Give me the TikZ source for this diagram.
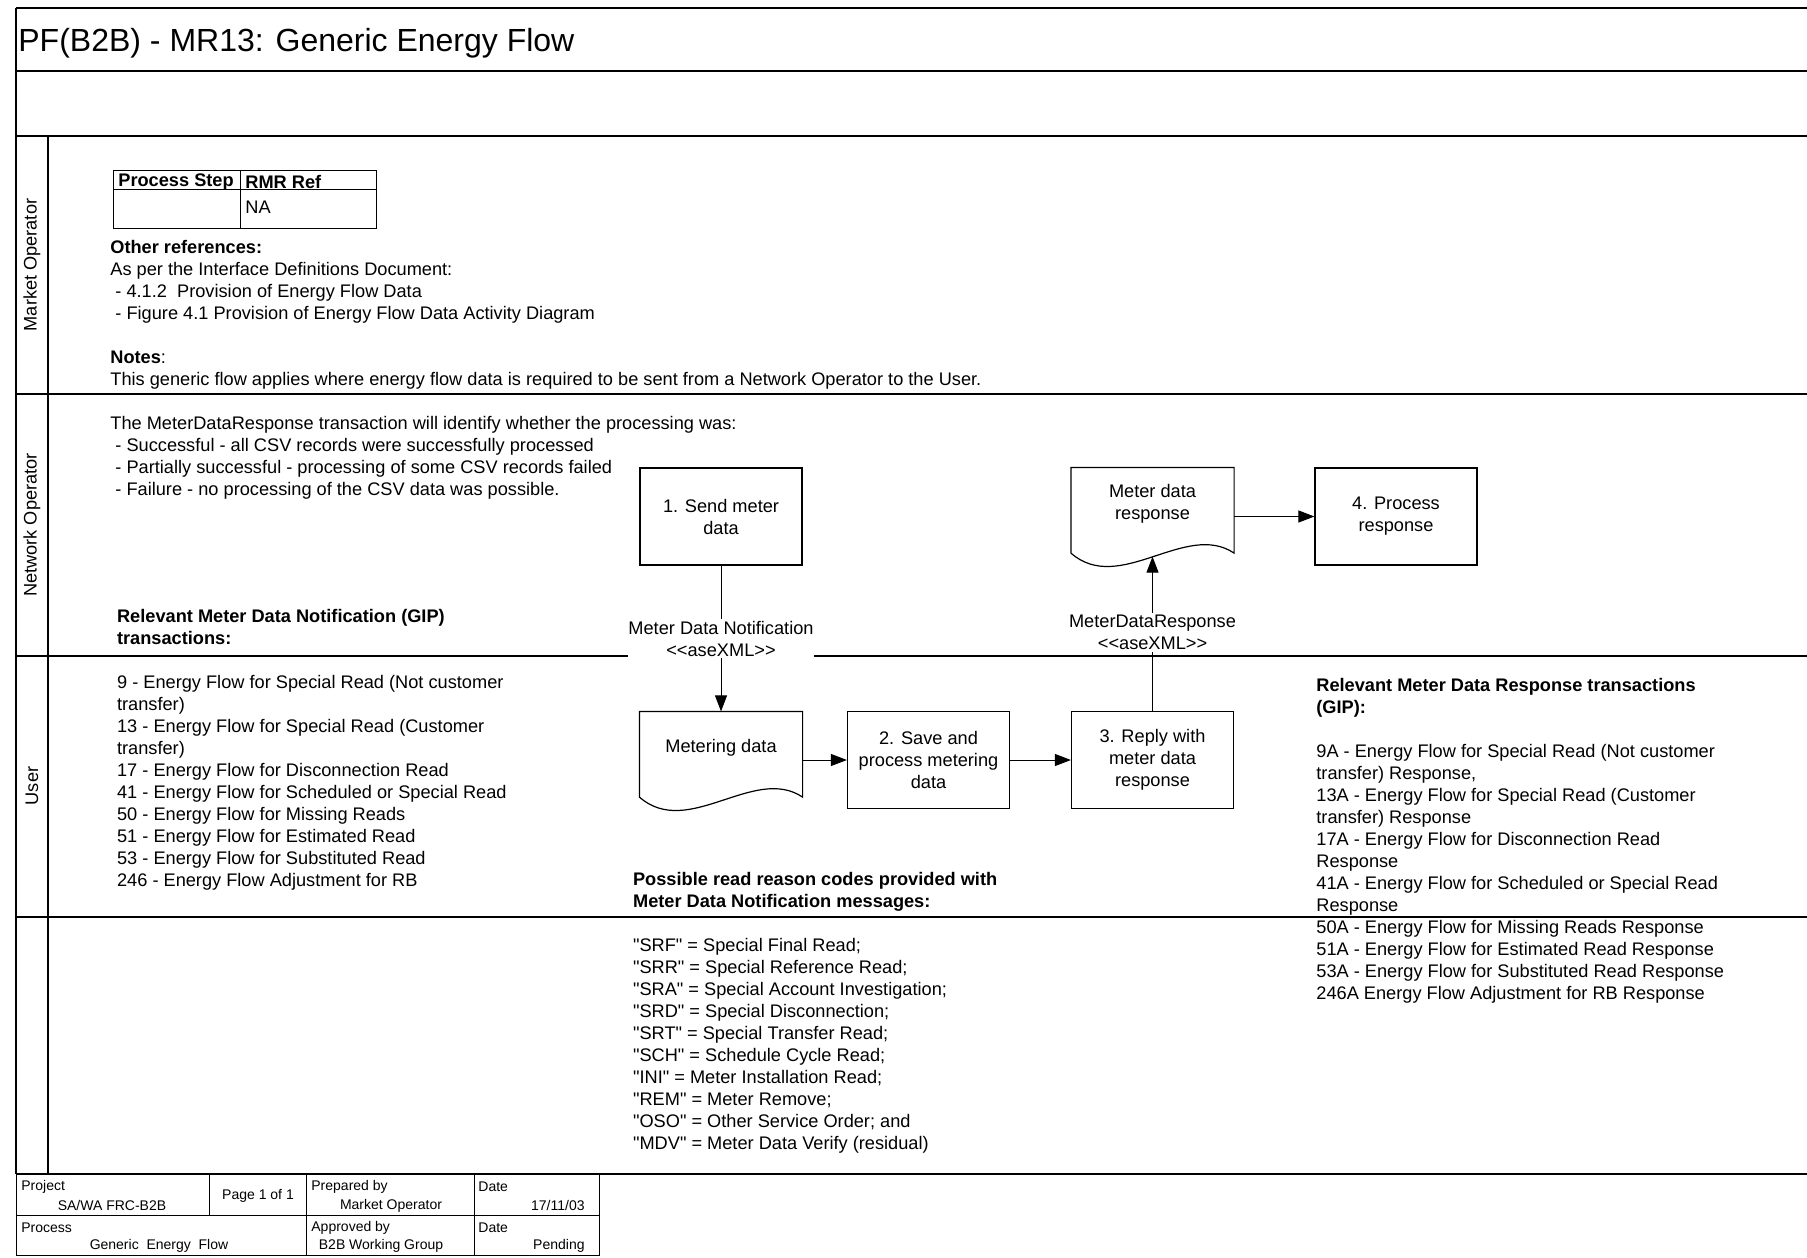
\documentclass[tikz,border=0pt]{standalone}
\usepackage{fontspec}
\setmainfont{Liberation Sans}[Ligatures=TeXOff]
\usetikzlibrary{arrows.meta}

\newcommand{\docoutline}[1]{%
  \draw[boxline] (#1.north west) -- (#1.north east)
    -- ([shift={(0,12.5)}]#1.south east)
    .. controls ([shift={(-48.6,-20)}]#1.south east) and ([shift={(48.6,55)}]#1.south west) ..
    ([shift={(0,12.5)}]#1.south west) -- cycle;}

\tikzset{
  border/.style={line width=0.75pt},
  boxline/.style={line width=0.6pt},
  txt/.style={anchor=north west, align=left, inner sep=0pt,
    font=\fontsize{9.1}{11}\selectfont, execute at begin node=\strut},
  cell/.style={anchor=west, inner sep=0pt, font=\fontsize{9.1}{11}\selectfont},
  box/.style={draw, boxline, minimum width=81pt, minimum height=48.5pt,
    align=center, inner sep=0pt, font=\fontsize{9.1}{11}\selectfont},
  doc/.style={box, draw=none, minimum height=36pt},
  flow/.style={line width=0.5pt, -{Triangle[length=8pt,width=6pt]}},
  msg/.style={fill=white, inner xsep=0pt, inner ysep=1pt, align=center,
    font=\fontsize{9.1}{11}\selectfont},
  lane/.style={rotate=90, inner sep=0pt, font=\fontsize{9.1}{11}\selectfont},
  foot/.style={inner sep=0pt, font=\fontsize{7}{8.4}\selectfont}
}

\begin{document}
\begin{tikzpicture}[x=0.5pt, y=-0.5pt]
  \fill[white] (0,0) rectangle (1807,1257);
  \useasboundingbox (0,0) rectangle (1807,1257);

  % frame and swimlanes
  \draw[border] (16,8) -- (1807,8);
  \draw[border] (16,71) -- (1807,71);
  \draw[border] (16,136) -- (1807,136);
  \draw[border] (16,394) -- (1807,394);
  \draw[border] (16,656) -- (1807,656);
  \draw[border] (16,917) -- (1807,917);
  \draw[border] (16,1174) -- (1807,1174);
  \draw[border] (16,8) -- (16,1174);
  \draw[border] (48,136) -- (48,1174);

  \node[anchor=west, inner sep=0pt, font=\fontsize{16}{19}\selectfont] (title) at (18,43)
    {PF(B2B) - MR13: Generic Energy Flow};

  \node[lane] (mo) at (32,265) {Market Operator};
  \node[lane] (no) at (32,525) {Network Operator};
  \node[lane] (user) at (32,786) {User};

  % reference table
  \draw[line width=0.5pt] (113,171) rectangle (376,228);
  \draw[line width=0.5pt] (113,190) -- (376,190);
  \draw[line width=0.5pt] (240.5,171) -- (240.5,228);
  \node[cell, font=\fontsize{9.1}{11}\selectfont\bfseries] (stephead) at (118,182) {Process Step};
  \node[cell, font=\fontsize{9.1}{11}\selectfont\bfseries] (rmrhead) at (245,182) {RMR Ref};
  \node[cell] (rmr) at (245,207) {NA};

  \node[txt] (refs) at (110,239.5) {\textbf{Other references:}\\
    As per the Interface Definitions Document:\\
    \ - 4.1.2\ \ Provision of Energy Flow Data\\
    \ - Figure 4.1 Provision of Energy Flow Data Activity Diagram\\[11pt]
    \textbf{Notes}:\\
    This generic flow applies where energy flow data is required to be sent from a Network Operator to the User.};

  \node[txt] (outcome) at (110,415.5) {The MeterDataResponse transaction will identify whether the processing was:\\
    \ - Successful - all CSV records were successfully processed\\
    \ - Partially successful - processing of some CSV records failed\\
    \ - Failure - no processing of the CSV data was possible.};

  \node[txt] (giphead) at (116.7,608.5) {\textbf{Relevant Meter Data Notification (GIP)}\\
    \textbf{transactions:}};

  \node[txt] (giplist) at (116.7,674.5) {9 - Energy Flow for Special Read (Not customer\\
    transfer)\\
    13 - Energy Flow for Special Read (Customer\\
    transfer)\\
    17 - Energy Flow for Disconnection Read\\
    41 - Energy Flow for Scheduled or Special Read\\
    50 - Energy Flow for Missing Reads\\
    51 - Energy Flow for Estimated Read\\
    53 - Energy Flow for Substituted Read\\
    246 - Energy Flow Adjustment for RB};

  \node[txt] (codes) at (632.7,871.5) {\textbf{Possible read reason codes provided with}\\
    \textbf{Meter Data Notification messages:}\\[11pt]
    "SRF" = Special Final Read;\\
    "SRR" = Special Reference Read;\\
    "SRA" = Special Account Investigation;\\
    "SRD" = Special Disconnection;\\
    "SRT" = Special Transfer Read;\\
    "SCH" = Schedule Cycle Read;\\
    "INI" = Meter Installation Read;\\
    "REM" = Meter Remove;\\
    "OSO" = Other Service Order; and\\
    "MDV" = Meter Data Verify (residual)};

  \node[txt] (resplist) at (1316,677.5) {\textbf{Relevant Meter Data Response transactions}\\
    \textbf{(GIP):}\\[11pt]
    9A - Energy Flow for Special Read (Not customer\\
    transfer) Response,\\
    13A - Energy Flow for Special Read (Customer\\
    transfer) Response\\
    17A - Energy Flow for Disconnection Read\\
    Response\\
    41A - Energy Flow for Scheduled or Special Read\\
    Response\\
    50A - Energy Flow for Missing Reads Response\\
    51A - Energy Flow for Estimated Read Response\\
    53A - Energy Flow for Substituted Read Response\\
    246A Energy Flow Adjustment for RB Response};

  % process steps
  \node[box] (send) at (721,516.5) {1. Send meter\\data};
  \node[doc] (mdresp) at (1152.5,504) {Meter data\\response};
  \node[box] (process) at (1396,516.5) {4. Process\\response};
  \node[doc] (metering) at (721,748) {Metering data};
  \node[box] (save) at (928.5,760) {2. Save and\\process metering\\data};
  \node[box] (reply) at (1152.5,760) {3. Reply with\\meter data\\response};
  \docoutline{mdresp}
  \docoutline{metering}
  \path (mdresp.south) ++(0,16) coordinate (mdwave);

  \draw[flow] (send) -- node[msg] {Meter Data Notification\\<<aseXML>>} (metering);
  \draw[flow] (reply) -- node[msg, pos=0.51] {MeterDataResponse\\<<aseXML>>} (mdwave);
  \draw[flow] (metering.east |- save) -- (save);
  \draw[flow] (save) -- (reply);
  \draw[flow] (mdresp.east |- process) -- (process);

  % footer
  \draw[line width=0.5pt] (16,1174) rectangle (599,1255);
  \draw[line width=0.5pt] (16,1215.5) -- (599,1215.5);
  \draw[line width=0.5pt] (209,1174) -- (209,1215.5);
  \draw[line width=0.5pt] (306,1174) -- (306,1255);
  \draw[line width=0.5pt] (474,1174) -- (474,1255);
  \node[foot, anchor=west] (projlbl) at (21,1187) {Project};
  \node[foot] (proj) at (112,1205.5) {SA/WA FRC-B2B};
  \node[foot] (page) at (258,1196) {Page 1 of 1};
  \node[foot, anchor=west] (preplbl) at (311,1187) {Prepared by};
  \node[foot] (prep) at (391,1205.5) {Market Operator};
  \node[foot, anchor=west] (date1lbl) at (478,1187) {Date};
  \node[foot, anchor=east] (date1) at (585,1205.5) {17/11/03};
  \node[foot, anchor=west] (proclbl) at (21,1227.5) {Process};
  \node[foot] (proc) at (159,1246) {Generic\ \ Energy\ \ Flow};
  \node[foot, anchor=west] (apprlbl) at (311,1227.5) {Approved by};
  \node[foot] (appr) at (381,1246) {B2B Working Group};
  \node[foot, anchor=west] (date2lbl) at (478,1227.5) {Date};
  \node[foot, anchor=east] (date2) at (585,1246) {Pending};
\end{tikzpicture}
\end{document}
